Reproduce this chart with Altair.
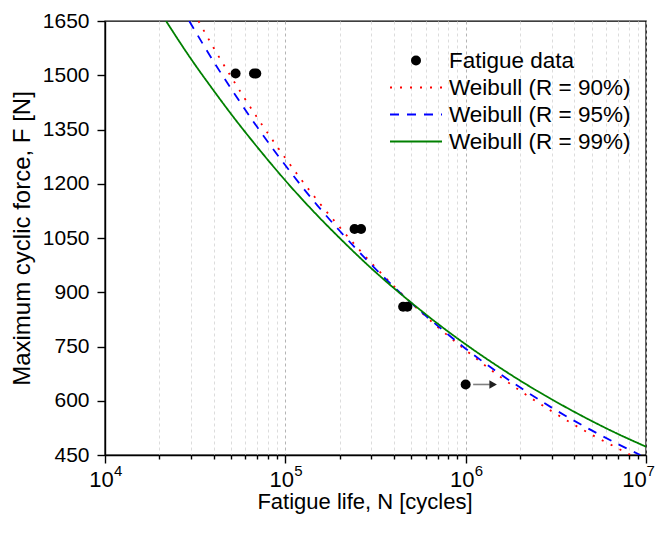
import altair as alt
import pandas as pd

# ---------------- data ----------------
data_N = [5.3e4, 6.7e4, 6.9e4, 2.42e5, 2.63e5, 4.5e5, 4.75e5, 1.0e6]
data_F = [1505, 1505, 1505, 1075, 1075, 860, 860, 645]

# run-out arrow (starts right of the run-out specimen at 1e6 cycles)
arrow_N = [1.1e6, 1.36e6]
arrow_F = [645, 645]
arrow_head_N = [1.42e6]
arrow_head_F = [645]

red_N = [3.3e4, 4e4, 5e4, 7e4, 1e5, 1.5e5, 2e5, 3e5, 5e5, 7e5, 1e6, 1.5e6, 2e6, 3e6, 5e6, 7e6, 8.2e6]
red_F = [1650, 1576, 1496, 1382, 1271, 1155, 1080, 981, 870, 804, 740, 672, 628, 571, 506, 468, 450]

blue_N = [2.93e4, 4e4, 5e4, 7e4, 1e5, 1.5e5, 2e5, 3e5, 5e5, 7e5, 1e6, 1.5e6, 2e6, 3e6, 5e6, 7e6, 9.3e6]
blue_F = [1650, 1538, 1463, 1356, 1251, 1141, 1070, 976, 870, 807, 744, 679, 637, 581, 518, 480, 450]

green_N = [2.18e4, 3e4, 4e4, 5e4, 7e4, 1e5, 1.5e5, 2e5, 3e5, 5e5, 7e5, 1e6, 1.5e6, 2e6, 3e6, 5e6, 7e6, 1e7]
green_F = [1650, 1545, 1458, 1393, 1301, 1209, 1113, 1050, 966, 871, 813, 756, 696, 656, 604, 544, 508, 473]

curve_names = ["Weibull (R = 90%)", "Weibull (R = 95%)", "Weibull (R = 99%)"]
curve_colors = ["#ff0000", "#0000ff", "#008000"]
curve_dashes = [[2, 8], [9, 8], [1, 0]]
point_label = "Fatigue data"

x_major = [1e4, 1e5, 1e6, 1e7]
x_major_base = "10"
x_major_exps = ["4", "5", "6", "7"]
x_ticks = [m * k for m in [1e4, 1e5, 1e6] for k in range(1, 10)] + [1e7]
y_ticks = list(range(450, 1651, 75))

# ---------------- tables ----------------
df_pts = pd.DataFrame({"N": data_N, "F": data_F})
df_lines = pd.concat([
    pd.DataFrame({"N": red_N, "F": red_F, "curve": curve_names[0]}),
    pd.DataFrame({"N": blue_N, "F": blue_F, "curve": curve_names[1]}),
    pd.DataFrame({"N": green_N, "F": green_F, "curve": curve_names[2]}),
])
df_arrow = pd.DataFrame({"N": arrow_N, "F": arrow_F})
df_head = pd.DataFrame({"N": arrow_head_N, "F": arrow_head_F})
df_exp_a = pd.DataFrame({"N": x_major[:-1], "exp": x_major_exps[:-1]})
df_exp_b = pd.DataFrame({"N": x_major[-1:], "exp": x_major_exps[-1:]})

FONT = "Liberation Sans"
W, H = 541, 434

major_test = "indexof([" + ",".join(str(int(v)) for v in x_major) + "], datum.value) >= 0"
last_test = f"datum.value == {int(x_major[-1])}"

x_scale = alt.Scale(type="log", domain=[1e4, 1e7], nice=False)
y_scale = alt.Scale(domain=[450, 1650], nice=False, zero=False)

x_axis = alt.Axis(
    title="Fatigue life, N [cycles]",
    values=x_ticks,
    labelExpr=f"{major_test} ? '{x_major_base}' : ''",
    labelFlush=False,
    labelOverlap=False,
    labelOffset={"condition": {"test": last_test, "value": -12}, "value": -4},
    tickSize={"condition": {"test": major_test, "value": 8}, "value": 4},
    grid=True,
    gridColor={"condition": {"test": major_test, "value": "#b4b4b4"}, "value": "#dcdcdc"},
    gridDash=[3, 3],
    gridWidth=1,
    labelFontSize=22,
    labelPadding=6,
    titleFontSize=22,
    titleX=W / 2 - 11,
    titleY=53,
    titleBaseline="alphabetic",
)
y_axis = alt.Axis(
    title="Maximum cyclic force, F [N]",
    values=y_ticks,
    format="d",
    labelExpr="datum.value % 150 == 0 ? datum.label : ''",
    labelOverlap=False,
    tickSize={"condition": {"test": "datum.value % 150 == 0", "value": 8}, "value": 4},
    grid=False,
    labelFontSize=21,
    labelPadding=8,
    titleFontSize=24,
    titleX=-83,
    titleY=H / 2,
    titleBaseline="middle",
)

lines = alt.Chart(df_lines).mark_line(strokeWidth=1.8, clip=True, interpolate="monotone").encode(
    x=alt.X("N:Q", scale=x_scale, axis=x_axis),
    y=alt.Y("F:Q", scale=y_scale, axis=y_axis),
    color=alt.Color("curve:N", scale=alt.Scale(domain=curve_names, range=curve_colors), legend=None),
    strokeDash=alt.StrokeDash("curve:N", scale=alt.Scale(domain=curve_names, range=curve_dashes), legend=None),
)

points = alt.Chart(df_pts).mark_point(filled=True, size=100, opacity=1, color="black").encode(
    x=alt.X("N:Q", scale=x_scale),
    y=alt.Y("F:Q", scale=y_scale),
)

arrow_line = alt.Chart(df_arrow).mark_line(color="#808080", strokeWidth=1.6).encode(
    x=alt.X("N:Q", scale=x_scale), y=alt.Y("F:Q", scale=y_scale)
)
arrow_head = alt.Chart(df_head).mark_point(
    shape="triangle-right", filled=True, size=75, color="#202020", opacity=1
).encode(x=alt.X("N:Q", scale=x_scale), y=alt.Y("F:Q", scale=y_scale))

# superscript exponents of the x tick labels
def exponent_layer(df, dx):
    return alt.Chart(df).mark_text(
        font=FONT, fontSize=15, color="black", align="left", baseline="alphabetic", dx=dx
    ).encode(
        x=alt.X("N:Q", scale=x_scale),
        y=alt.value(H + 21),
        text="exp:N",
    )

exp_layers = [exponent_layer(df_exp_a, 9), exponent_layer(df_exp_b, 0.5)]

# ---------------- legend (drawn inside the plot, top right) ----------------
LEG_SYM_X0, LEG_SYM_X1, LEG_LABEL_X = 285, 337, 344
LEG_Y0, LEG_DY = 39.5, 27

legend_layers = []
legend_layers.append(
    alt.Chart(pd.DataFrame({"label": [point_label]})).mark_point(
        filled=True, size=100, opacity=1, color="black"
    ).encode(x=alt.value((LEG_SYM_X0 + LEG_SYM_X1) / 2), y=alt.value(LEG_Y0))
)
legend_layers.append(
    alt.Chart(pd.DataFrame({"label": [point_label]})).mark_text(
        font=FONT, fontSize=22.5, color="black", align="left", baseline="middle"
    ).encode(x=alt.value(LEG_LABEL_X), y=alt.value(LEG_Y0), text="label:N")
)
for i, (name, col, dash) in enumerate(zip(curve_names, curve_colors, curve_dashes)):
    yy = LEG_Y0 + (i + 1) * LEG_DY
    df_l = pd.DataFrame({"label": [name]})
    legend_layers.append(
        alt.Chart(df_l).mark_rule(color=col, strokeWidth=1.8, strokeDash=dash).encode(
            x=alt.value(LEG_SYM_X0), x2=alt.value(LEG_SYM_X1), y=alt.value(yy)
        )
    )
    legend_layers.append(
        alt.Chart(df_l).mark_text(
            font=FONT, fontSize=22.5, color="black", align="left", baseline="middle"
        ).encode(x=alt.value(LEG_LABEL_X), y=alt.value(yy), text="label:N")
    )

chart = alt.layer(lines, arrow_line, arrow_head, points, *exp_layers, *legend_layers).properties(
    width=W,
    height=H,
    autosize=alt.AutoSizeParams(type="none"),
    padding={"left": 97, "top": 13, "right": 9, "bottom": 71},
    background="white",
).configure_view(
    stroke="black", strokeWidth=1.4
).configure_axis(
    labelFont=FONT, titleFont=FONT, labelColor="black", titleColor="black",
    titleFontWeight="normal", domainColor="black", domainWidth=1.4,
    tickColor="black", tickWidth=1.4,
)

chart.save("out.html", embed_options={"renderer": "svg", "actions": False})
